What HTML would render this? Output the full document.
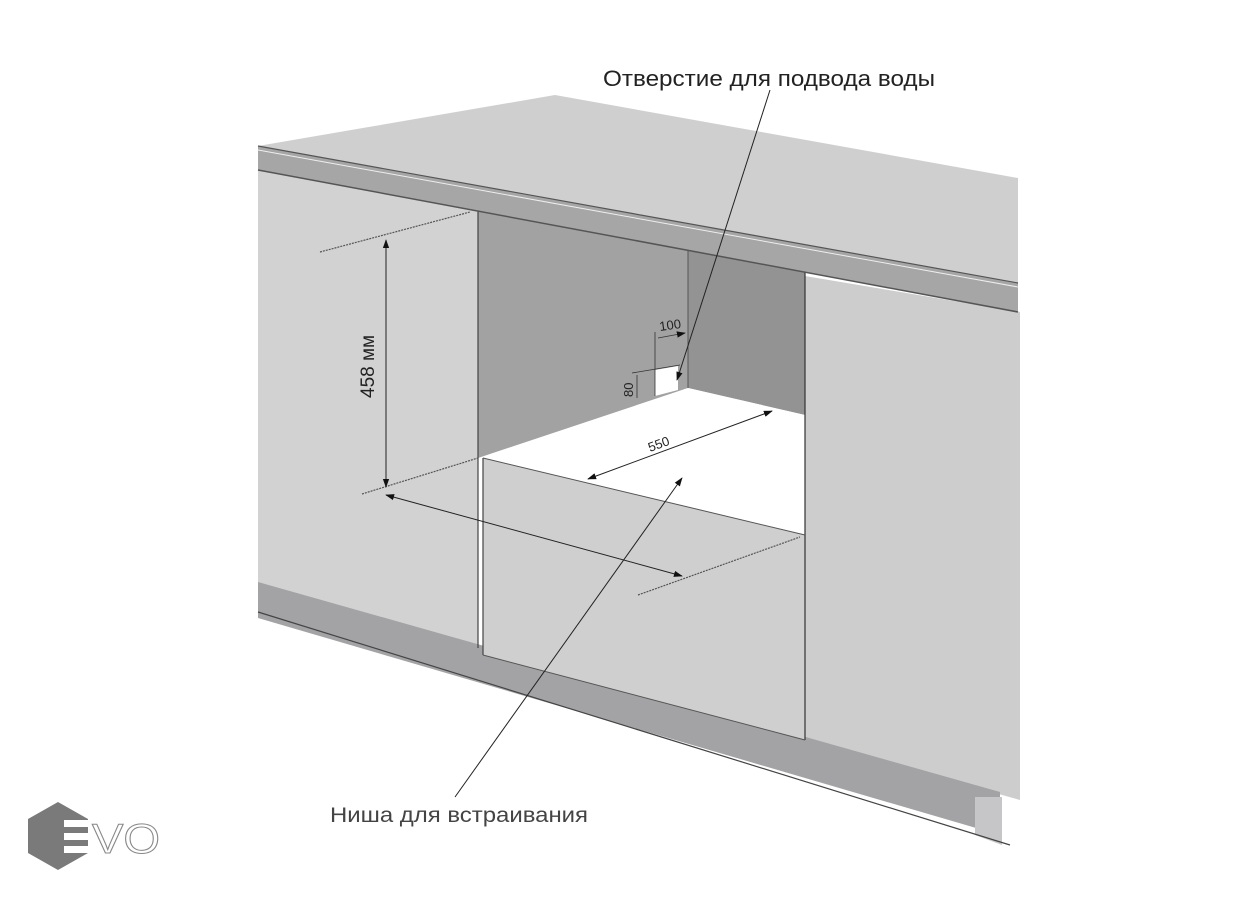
<!DOCTYPE html>
<html><head><meta charset="utf-8"><style>
html,body{margin:0;padding:0;background:#fff;}
svg{display:block;}
text{font-family:"Liberation Sans","DejaVu Sans",sans-serif;}
</style></head><body>
<svg width="1249" height="900" viewBox="0 0 1249 900" xmlns="http://www.w3.org/2000/svg">
<defs>
<marker id="ah" viewBox="0 0 10 10" refX="9" refY="5" markerWidth="9" markerHeight="9" orient="auto-start-reverse" markerUnits="userSpaceOnUse"><path d="M0,1.5 L10,5 L0,8.5 z" fill="#111"/></marker>
</defs>
<polygon points="258,146 555,95 1018,178 1018,283" fill="#cfcfcf"/>
<polygon points="258,170 478,210 478,648 258,585" fill="#d2d2d2"/>
<polygon points="805,276 1020,312 1020,800 805,740" fill="#cdcdcd"/>
<polygon points="258,582 1000,792 1000,835 258,618" fill="#a3a3a6"/>
<polygon points="975,797 1002,797 1002,845 975,835" fill="#c6c6c8"/>
<line x1="258" y1="612" x2="1010" y2="845" stroke="#444" stroke-width="1.2"/>
<polygon points="478,210 688,250 688,388 478,458" fill="#a2a2a2"/>
<polygon points="688,250 805,272 805,415 688,388" fill="#939393"/>
<line x1="688" y1="250" x2="688" y2="388" stroke="#555" stroke-width="1"/>
<polygon points="483,458 688,388 805,415 805,535" fill="#ffffff"/>
<polygon points="483,458 805,535 805,740 483,655" fill="#cfcfcf"/>
<line x1="478" y1="210" x2="478" y2="648" stroke="#444" stroke-width="1.2"/>
<line x1="483" y1="458" x2="483" y2="655" stroke="#444" stroke-width="1.2"/>
<line x1="805" y1="272" x2="805" y2="740" stroke="#333" stroke-width="1.2"/>
<line x1="483" y1="458" x2="805" y2="535" stroke="#555" stroke-width="1"/>
<line x1="483" y1="655" x2="805" y2="740" stroke="#555" stroke-width="1"/>
<polygon points="258,146 1018,283 1018,312 258,170" fill="#a6a6a6"/>
<line x1="258" y1="146" x2="1018" y2="283" stroke="#555" stroke-width="1.2"/>
<line x1="258" y1="150" x2="1018" y2="287" stroke="#eee" stroke-width="1"/>
<line x1="258" y1="170" x2="1018" y2="312" stroke="#555" stroke-width="1.5"/>
<polygon points="655,370 678,366 678,390 655,396" fill="#fff"/>
<line x1="655" y1="332" x2="655" y2="396" stroke="#333" stroke-width="0.8"/>
<line x1="658" y1="338" x2="685" y2="333" stroke="#333" stroke-width="0.8" marker-end="url(#ah)"/>
<line x1="632" y1="373" x2="680" y2="365" stroke="#333" stroke-width="0.8"/>
<line x1="637" y1="375" x2="637" y2="398" stroke="#333" stroke-width="0.8"/>
<text x="660" y="331" font-size="13" fill="#222" transform="rotate(-8 660 331)">100</text>
<text x="633" y="397" font-size="13" fill="#222" transform="rotate(-90 633 397)">80</text>
<line x1="320" y1="252" x2="470" y2="212" stroke="#555" stroke-width="1.2" stroke-dasharray="2,1"/>
<line x1="362" y1="494" x2="478" y2="458" stroke="#555" stroke-width="1.2" stroke-dasharray="2,1"/>
<line x1="638" y1="595" x2="800" y2="537" stroke="#555" stroke-width="1.2" stroke-dasharray="2,1"/>
<line x1="386" y1="240" x2="386" y2="487" stroke="#222" stroke-width="1" marker-start="url(#ah)" marker-end="url(#ah)"/>
<text x="374" y="398" font-size="19" fill="#222" transform="rotate(-90 374 398)">458 мм</text>
<line x1="386" y1="495" x2="682" y2="576" stroke="#222" stroke-width="1" marker-start="url(#ah)" marker-end="url(#ah)"/>
<line x1="588" y1="479" x2="772" y2="411" stroke="#222" stroke-width="1" marker-start="url(#ah)" marker-end="url(#ah)"/>
<text x="650" y="452" font-size="13" fill="#222" transform="rotate(-20 650 452)">550</text>
<line x1="770" y1="90" x2="677" y2="380" stroke="#222" stroke-width="1" marker-end="url(#ah)"/>
<line x1="455" y1="797" x2="682" y2="478" stroke="#222" stroke-width="1" marker-end="url(#ah)"/>
<text x="603" y="86" font-size="22" fill="#222" textLength="332" lengthAdjust="spacingAndGlyphs">Отверстие для подвода воды</text>
<text x="330" y="822" font-size="21" fill="#444" textLength="258" lengthAdjust="spacingAndGlyphs">Ниша для встраивания</text>
<polygon points="58,802 88,819 88,853 58,870 28,853 28,819" fill="#7a7a7a"/>
<rect x="64" y="820" width="28" height="7" fill="#fff"/>
<rect x="64" y="833" width="28" height="7" fill="#fff"/>
<rect x="64" y="846" width="28" height="7" fill="#fff"/>
<text x="92" y="853" font-size="42" fill="#fff" stroke="#888" stroke-width="1" textLength="68" lengthAdjust="spacingAndGlyphs">VO</text>
</svg>
</body></html>
